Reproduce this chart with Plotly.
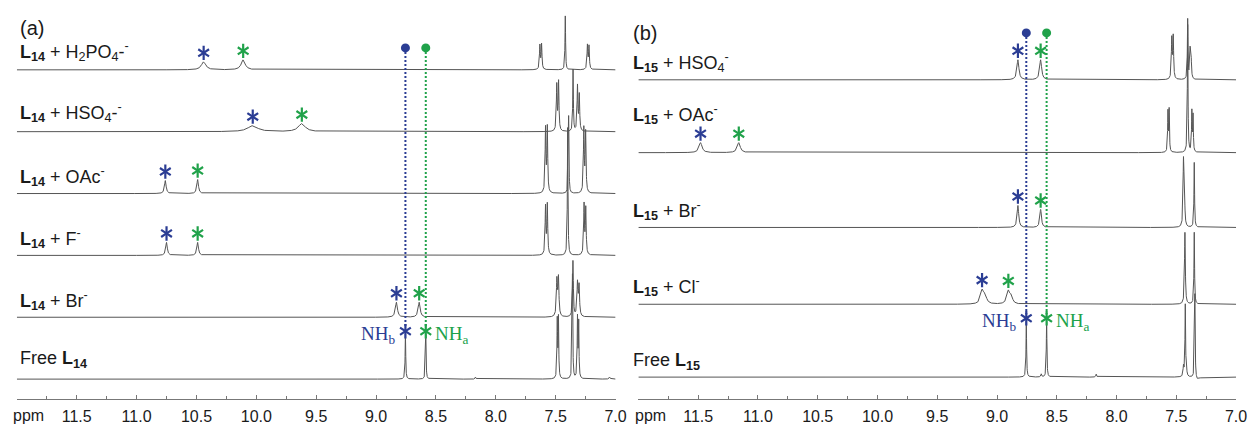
import numpy as np
import plotly.graph_objects as go

W, H = 1258, 425

# ---------------- data ----------------
# chemical-shift grid (ppm)
ppm = np.round(np.arange(7.0, 12.0005, 0.001), 4)
tick_vals = [12.0, 11.5, 11.0, 10.5, 10.0, 9.5, 9.0, 8.5, 8.0, 7.5, 7.0]
tick_text = ["", "11.5", "11.0", "10.5", "10.0", "9.5", "9.0", "8.5", "8.0", "7.5", "7.0"]

# panel (a): L14 with anions (top to bottom)
a_labels = [
    "<b>L</b><sub><b>14</b></sub> + H<sub>2</sub>PO<sub>4</sub>-<sup>-</sup>",
    "<b>L</b><sub><b>14</b></sub> + HSO<sub>4</sub>-<sup>-</sup>",
    "<b>L</b><sub><b>14</b></sub> + OAc<sup>-</sup>",
    "<b>L</b><sub><b>14</b></sub> + F<sup>-</sup>",
    "<b>L</b><sub><b>14</b></sub> + Br<sup>-</sup>",
    "Free <b>L</b><sub><b>14</b></sub>",
]
# NH_b / NH_a signals: shift (ppm), height, half-width (ppm)
a_nhb_shift = [10.44, 10.03, 10.76, 10.75, 8.83, 8.755]
a_nhb_height = [8, 6, 13, 13, 15, 45]
a_nhb_width = [0.022, 0.05, 0.008, 0.008, 0.010, 0.003]
a_nha_shift = [10.11, 9.62, 10.49, 10.49, 8.64, 8.585]
a_nha_height = [10, 8, 14, 13, 15, 45]
a_nha_width = [0.02, 0.035, 0.008, 0.008, 0.010, 0.003]
# aromatic / other signals per spectrum: (shift, height, half-width)
a_other = [
    [(7.632, 24, 0.004), (7.618, 25, 0.004), (7.420, 54, 0.003), (7.235, 24, 0.004), (7.222, 23, 0.004)],
    [(7.491, 46, 0.004), (7.476, 49, 0.004), (7.355, 62, 0.003), (7.318, 45, 0.004), (7.303, 36, 0.004)],
    [(7.585, 64, 0.004), (7.570, 65, 0.004), (7.392, 78, 0.003), (7.265, 64, 0.004), (7.250, 60, 0.004)],
    [(7.585, 48, 0.004), (7.570, 50, 0.004), (7.400, 128, 0.003), (7.263, 50, 0.004), (7.249, 46, 0.004)],
    [(7.490, 36, 0.005), (7.477, 38, 0.005), (7.356, 56, 0.004), (7.318, 33, 0.005), (7.305, 30, 0.005)],
    [(7.487, 58, 0.003), (7.477, 60, 0.003), (7.360, 105, 0.003), (7.318, 60, 0.003), (7.308, 55, 0.003),
     (8.170, 2, 0.004), (7.050, 2, 0.005)],
]

# panel (b): L15 with anions (top to bottom)
b_labels = [
    "<b>L</b><sub><b>15</b></sub> + HSO<sub>4</sub><sup>-</sup>",
    "<b>L</b><sub><b>15</b></sub> + OAc<sup>-</sup>",
    "<b>L</b><sub><b>15</b></sub> + Br<sup>-</sup>",
    "<b>L</b><sub><b>15</b></sub> + Cl<sup>-</sup>",
    "Free <b>L</b><sub><b>15</b></sub>",
]
b_nhb_shift = [8.825, 11.48, 8.825, 9.125, 8.755]
b_nhb_height = [20, 10, 22, 13, 56]
b_nhb_width = [0.010, 0.015, 0.008, 0.015, 0.003]
b_nha_shift = [8.635, 11.16, 8.635, 8.905, 8.585]
b_nha_height = [20, 10, 18, 13, 56]
b_nha_width = [0.010, 0.015, 0.008, 0.015, 0.003]
b_other = [
    [(7.538, 40, 0.004), (7.526, 42, 0.004), (7.405, 60, 0.003), (7.385, 28, 0.004), (7.377, 22, 0.004)],
    [(7.570, 40, 0.003), (7.560, 42, 0.003), (7.405, 128, 0.003), (7.370, 40, 0.003), (7.360, 36, 0.003)],
    [(7.440, 65, 0.004), (7.432, 30, 0.004), (7.350, 65, 0.003)],
    [(7.428, 72, 0.004), (7.350, 72, 0.003), (9.100, 8, 0.015), (8.880, 7, 0.012)],
    [(7.440, 10, 0.004), (7.425, 72, 0.003), (7.415, 6, 0.004), (7.345, 85, 0.003),
     (8.630, 3, 0.004), (8.170, 3, 0.004), (7.325, -3, 0.02)],
]

# ---------------- layout constants ----------------
PLOT_TOP, AXIS_Y = 0, 400          # pixel rows of plot top and ppm axis
a_base = [70, 132, 194, 256, 318, 380]
b_base = [80, 153, 228, 305, 378]
a_label_y = [52, 113, 177, 239, 301, 360]
b_label_y = [63, 115, 211, 287, 362]
a_dom = [17 / W, 621 / W]
b_dom = [644 / W, 1247 / W]

BLUE = "#2b3d94"
GREEN = "#20a24a"
GRAY = "#555555"
SANS = "Liberation Sans, Arial, sans-serif"
SERIF = "Liberation Serif, Times New Roman, serif"


def pix(py):
    """pixel row -> y-axis value"""
    return AXIS_Y - py


def spectrum(peaks):
    y = np.zeros_like(ppm)
    for c, h, w in peaks:
        y += h * w ** 2 / ((ppm - c) ** 2 + w ** 2)
    return y


fig = go.Figure()
annotations = []


def panel(xref, base, labels, label_y, nhb, nha, other, dot_y, label_x, free_gap):
    nhb_s, nhb_h, nhb_w = nhb
    nha_s, nha_h, nha_w = nha
    star_b, star_a = [], []
    for i in range(len(labels)):
        peaks = [(nhb_s[i], nhb_h[i], nhb_w[i]), (nha_s[i], nha_h[i], nha_w[i])] + other[i]
        spec = spectrum(peaks)
        y0 = pix(base[i])
        fig.add_trace(go.Scatter(
            x=ppm, y=y0 + spec, mode="lines", xaxis=xref, yaxis="y",
            line=dict(color=GRAY, width=1), hoverinfo="skip", showlegend=False))
        gap = free_gap if i == len(labels) - 1 else 9
        for s, store in ((nhb_s[i], star_b), (nha_s[i], star_a)):
            k = int(np.argmin(np.abs(ppm - s)))
            store.append((s, y0 + spec[k] + gap))
        annotations.append(dict(
            text=labels[i], xref="paper", yref="paper", x=label_x / W, y=1 - label_y[i] / H,
            xanchor="left", yanchor="middle", showarrow=False,
            font=dict(family=SANS, size=18, color="#1a1a1a")))

    # asterisks marking NH_b (blue) and NH_a (green)
    for pts, col in ((star_b, BLUE), (star_a, GREEN)):
        for sym in ("y-up-open", "y-down-open"):
            fig.add_trace(go.Scatter(
                x=[p[0] for p in pts], y=[p[1] for p in pts], mode="markers",
                xaxis=xref, yaxis="y", hoverinfo="skip", showlegend=False,
                marker=dict(symbol=sym, size=9, color=col, line=dict(color=col, width=2.2))))

    # dotted guide lines from the free-ligand NH positions
    for pts, col in ((star_b, BLUE), (star_a, GREEN)):
        xs, yfree = pts[-1]
        fig.add_trace(go.Scatter(
            x=[xs, xs], y=[pix(dot_y), yfree + 4], mode="lines", xaxis=xref, yaxis="y",
            line=dict(color=col, width=2, dash="2px,2px"), hoverinfo="skip", showlegend=False))
        fig.add_trace(go.Scatter(
            x=[xs], y=[pix(dot_y)], mode="markers", xaxis=xref, yaxis="y",
            marker=dict(symbol="circle", size=9, color=col), hoverinfo="skip", showlegend=False))

    # NH_b / NH_a captions next to the free-ligand asterisks
    xb, yb = star_b[-1]
    xa, ya = star_a[-1]
    annotations.append(dict(
        text="NH<sub>b</sub>", xref=xref, yref="y", x=xb, y=yb - 4, xshift=-8,
        xanchor="right", yanchor="middle", showarrow=False,
        font=dict(family=SERIF, size=19, color=BLUE)))
    annotations.append(dict(
        text="NH<sub>a</sub>", xref=xref, yref="y", x=xa, y=ya - 4, xshift=7,
        xanchor="left", yanchor="middle", showarrow=False,
        font=dict(family=SERIF, size=19, color=GREEN)))
    # "ppm" at the left end of the axis
    annotations.append(dict(
        text="ppm", xref=xref, yref="paper", x=12.0, y=1 - 416 / H, xshift=12,
        xanchor="center", yanchor="middle", showarrow=False,
        font=dict(family=SANS, size=16, color="#1a1a1a")))


panel("x", a_base, a_labels, a_label_y,
      (a_nhb_shift, a_nhb_height, a_nhb_width), (a_nha_shift, a_nha_height, a_nha_width),
      a_other, 48, 18, 3)
panel("x2", b_base, b_labels, b_label_y,
      (b_nhb_shift, b_nhb_height, b_nhb_width), (b_nha_shift, b_nha_height, b_nha_width),
      b_other, 33, 637, 3)

annotations.append(dict(text="(a)", xref="paper", yref="paper", x=18 / W, y=1 - 28 / H,
                        xanchor="left", yanchor="middle", showarrow=False,
                        font=dict(family=SANS, size=20, color="#1a1a1a")))
annotations.append(dict(text="(b)", xref="paper", yref="paper", x=637 / W, y=1 - 33 / H,
                        xanchor="left", yanchor="middle", showarrow=False,
                        font=dict(family=SANS, size=20, color="#1a1a1a")))

axis_common = dict(
    range=[12.0, 7.0], tickvals=tick_vals, ticktext=tick_text,
    ticks="inside", ticklen=4, tickcolor="#777777", tickwidth=1,
    minor=dict(dtick=0.25, tick0=7.0, ticks="inside", ticklen=3, tickcolor="#777777"),
    showline=True, linecolor="#777777", linewidth=1,
    showgrid=False, zeroline=False, anchor="y",
    tickfont=dict(family=SANS, size=16, color="#1a1a1a"), ticklabelstandoff=3,
    fixedrange=True,
)

fig.update_layout(
    width=W, height=H,
    margin=dict(l=0, r=0, t=0, b=0),
    paper_bgcolor="white", plot_bgcolor="white",
    showlegend=False,
    xaxis=dict(domain=a_dom, **axis_common),
    xaxis2=dict(domain=b_dom, **axis_common),
    yaxis=dict(domain=[(H - AXIS_Y) / H, 1], range=[0, AXIS_Y - PLOT_TOP], visible=False,
               fixedrange=True),
    annotations=annotations,
)

fig.write_html("out.html")
